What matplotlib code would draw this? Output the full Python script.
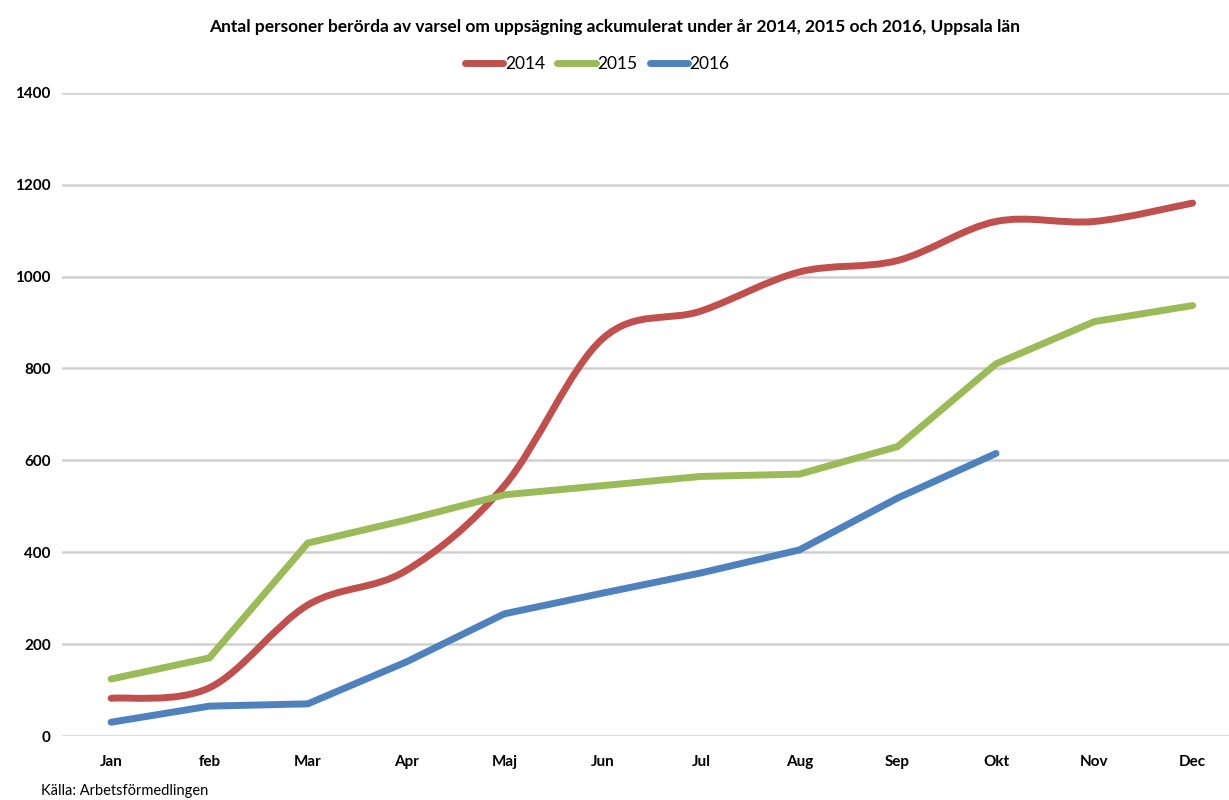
import matplotlib

matplotlib.use("Agg")
import matplotlib.pyplot as plt
import numpy as np
from matplotlib.path import Path
from matplotlib.patches import PathPatch
from matplotlib.lines import Line2D

months = ["Jan", "feb", "Mar", "Apr", "Maj", "Jun", "Jul", "Aug", "Sep", "Okt", "Nov", "Dec"]
v2014 = [82, 105, 285, 360, 545, 865, 925, 1010, 1035, 1120, 1120, 1160]
v2015 = [124, 170, 420, 470, 525, 545, 565, 570, 630, 810, 902, 937]
v2016 = [30, 65, 70, 161, 266, 311, 355, 405, 518, 615]

RED, GREEN, BLUE = "#c0504d", "#9bbb59", "#4f81bd"
plt.rcParams["font.family"] = ["Lato", "DejaVu Sans"]


def smooth_path(x, y):
    # Catmull-Rom style bezier, similar to Excel "smoothed line"
    pts = np.column_stack([x, y]).astype(float)
    n = len(pts)
    verts = [pts[0]]
    codes = [Path.MOVETO]
    for i in range(n - 1):
        p0 = pts[i - 1] if i > 0 else pts[i]
        p1, p2 = pts[i], pts[i + 1]
        p3 = pts[i + 2] if i + 2 < n else pts[i + 1]
        c1 = p1 + (p2 - p0) / 6.0
        c2 = p2 - (p3 - p1) / 6.0
        verts += [c1, c2, p2]
        codes += [Path.CURVE4] * 3
    return Path(verts, codes)


fig = plt.figure(figsize=(12.29, 8), dpi=100)
ax = fig.add_axes([0.0504, 0.08, 0.9496, 0.804])

x = np.arange(len(months))
ax.add_patch(PathPatch(smooth_path(x, v2014), facecolor="none", edgecolor=RED,
                       lw=5, capstyle="round", joinstyle="round", zorder=3))
ax.plot(x, v2015, color=GREEN, lw=5, solid_capstyle="round", solid_joinstyle="round", zorder=3)
ax.plot(np.arange(len(v2016)), v2016, color=BLUE, lw=5, solid_capstyle="round",
        solid_joinstyle="round", zorder=3)

ax.set_xlim(-0.5, 11.37)
ax.set_ylim(0, 1400)
ax.set_yticks(range(0, 1401, 200))
ax.set_xticks(x)
ax.set_xticklabels(months)
ax.grid(axis="y", color="#d0d0d0", lw=1.8)
ax.set_axisbelow(True)
for s in ax.spines.values():
    s.set_visible(False)
ax.tick_params(length=0, labelsize=11)
ax.tick_params(axis="x", pad=14)
ax.tick_params(axis="y", pad=8)
for lab in ax.get_xticklabels() + ax.get_yticklabels():
    lab.set_fontweight("bold")

fig.text(0.5, 0.966, "Antal personer berörda av varsel om uppsägning ackumulerat under år 2014, 2015 och 2016, Uppsala län",
         ha="center", va="center", fontsize=12.5, fontweight="bold")

handles = [Line2D([], [], color=c, lw=5, solid_capstyle="round") for c in (RED, GREEN, BLUE)]
fig.legend(handles, ["2014", "2015", "2016"], loc="center", bbox_to_anchor=(0.486, 0.92), ncol=3,
           frameon=False, fontsize=12.5, handlelength=2.2, handletextpad=0.1, columnspacing=0.7)

fig.text(0.033, 0.002, "Källa: Arbetsförmedlingen", ha="left", va="bottom", fontsize=10.5)

fig.savefig("out.png", dpi=100)
